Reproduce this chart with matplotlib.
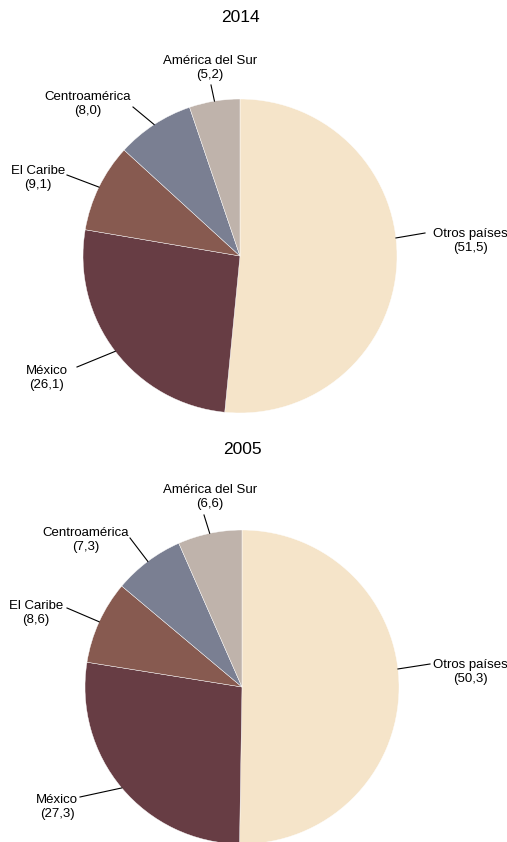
import numpy as np
import matplotlib
matplotlib.use("Agg")
import matplotlib.pyplot as plt

plt.rcParams['font.family'] = ['Liberation Sans', 'DejaVu Sans']

categories = ["Otros países", "México", "El Caribe", "Centroamérica", "América del Sur"]
values_2014 = [51.5, 26.1, 9.1, 8.0, 5.2]
values_2005 = [50.3, 27.3, 8.6, 7.3, 6.6]
years = ["2014", "2005"]
colors = ["#F5E4C9", "#673D44", "#875A50", "#7A7F92", "#BFB3AB"]

W, H = 507, 842
fig = plt.figure(figsize=(W / 100, H / 100), dpi=100)
ax = fig.add_axes([0, 0, 1, 1])
ax.set_xlim(0, W)
ax.set_ylim(0, H)
ax.set_aspect('equal')
ax.axis('off')

def Y(py):
    return H - py

def fmt(v):
    return f"{v:.1f}".replace('.', ',')

# layout (pixel coords, y from top)
pies = [
    dict(values=values_2014, year="2014", cx=240, cy=256, r=157, ty=18,
         text=[(470, 241), (47, 378), (38, 178), (88, 104), (210, 68)],
         ends=[(425, 233), (77, 367), (67, 175), (133, 107), (211, 85)]),
    dict(values=values_2005, year="2005", cx=242, cy=687, r=157, ty=450,
         text=[(470, 672), (57, 807), (36, 613), (86, 540), (210, 497)],
         ends=[(430, 664), (80, 797), (67, 608), (130, 538), (204, 515)]),
]

for p in pies:
    vals = p["values"]
    ax.pie(vals, colors=colors, startangle=90, counterclock=False,
           center=(p["cx"], Y(p["cy"])), radius=p["r"],
           wedgeprops=dict(edgecolor='white', linewidth=0.3), frame=True)
    ax.text(p["cx"], Y(p["ty"]), p["year"], ha='center', va='center', fontsize=12.5)
    cum = np.cumsum([0] + vals)
    total = sum(vals)
    for i, cat in enumerate(categories):
        mid = 90 - 360 * (cum[i] + vals[i] / 2) / total
        if i == 0:
            mid = 6.6
        a = np.deg2rad(mid)
        sx = p["cx"] + p["r"] * np.cos(a)
        sy = Y(p["cy"]) + p["r"] * np.sin(a)
        ex, ey = p["ends"][i]
        ax.plot([sx, ex], [sy, Y(ey)], color='black', lw=0.8)
        tx, ty = p["text"][i]
        ax.text(tx, Y(ty), f"{cat}\n({fmt(vals[i])})", ha='center', va='center',
                fontsize=9.5, linespacing=1.25)

ax.set_xlim(0, W)
ax.set_ylim(0, H)
ax.axis('off')
fig.savefig("out.png", dpi=100)
